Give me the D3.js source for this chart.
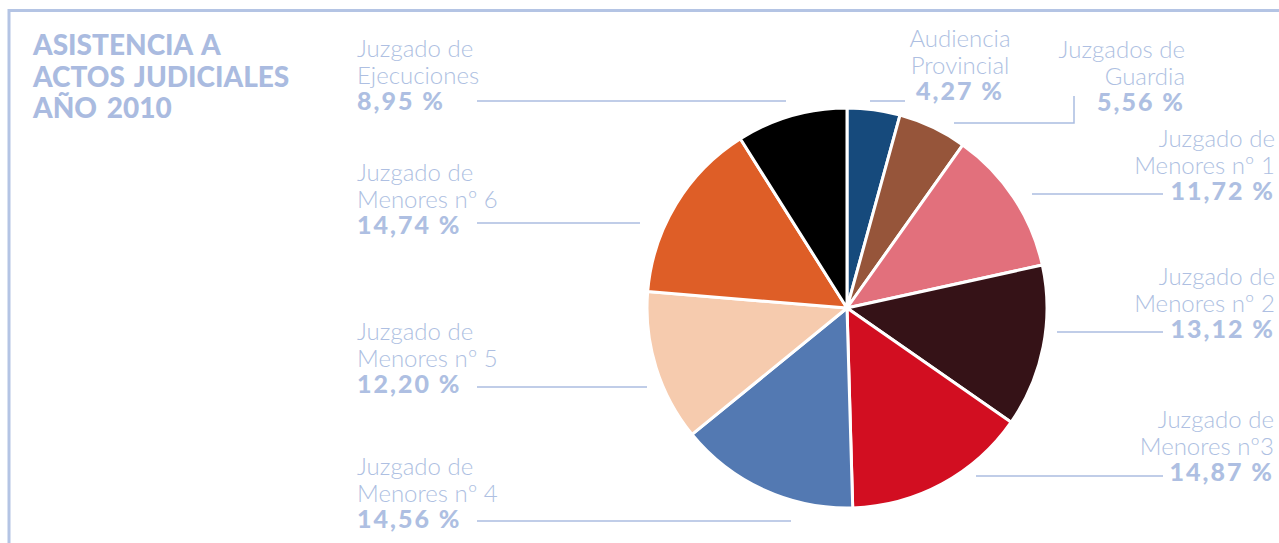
<!DOCTYPE html>
<html lang="es">
<head>
<meta charset="UTF-8">
<title>Asistencia a actos judiciales 2010</title>
<style>
    body { margin: 0; background: #fff; }
    svg { display: block; }
    .title { font: 900 28px Lato, "Open Sans", sans-serif; fill: #aabbe0; word-spacing: 3px; }
    .lbl { font: 300 24px Lato, "Open Sans", sans-serif; fill: #aebfe2; }
    .pct { font: 900 25px Lato, "DejaVu Sans", sans-serif; fill: #aebfe2; letter-spacing: 2px; }
    .lead { fill: none; stroke: #abbde1; stroke-width: 1.5px; }
    .frame { fill: none; stroke: #b4c4e4; stroke-width: 3px; }
</style>
</head>
<body>
<script src="https://cdn.jsdelivr.net/npm/d3@7"></script>
<script>
// data, clockwise from 12 o'clock
const categories = [
    ["Audiencia", "Provincial"],
    ["Juzgados de", "Guardia"],
    ["Juzgado de", "Menores nº 1"],
    ["Juzgado de", "Menores nº 2"],
    ["Juzgado de", "Menores nº3"],
    ["Juzgado de", "Menores nº 4"],
    ["Juzgado de", "Menores nº 5"],
    ["Juzgado de", "Menores nº 6"],
    ["Juzgado de", "Ejecuciones"]
];
const values = [4.27, 5.56, 11.72, 13.12, 14.87, 14.56, 12.20, 14.74, 8.95];
const colors = ["#164a7c", "#96553a", "#e2707c", "#351217", "#d20e21",
                "#5379b2", "#f6cbae", "#de5e27", "#000000"];
const titleLines = ["ASISTENCIA A", "ACTOS JUDICIALES", "AÑO 2010"];

// label placement: text anchor point (x, first baseline) + leader line
const labelLayout = [
    { x: 960, y: 47, anchor: "middle", line: [[870, 101], [905, 101]] },
    { x: 1185, y: 58, anchor: "end", line: [[954, 123], [1074, 123], [1074, 96]] },
    { x: 1275, y: 147, anchor: "end", line: [[1032, 194], [1163, 194]] },
    { x: 1275, y: 285, anchor: "end", line: [[1057, 332], [1163, 332]] },
    { x: 1274, y: 428, anchor: "end", line: [[976, 476], [1163, 476]] },
    { x: 357, y: 475, anchor: "start", line: [[477, 521], [791, 521]] },
    { x: 357, y: 340, anchor: "start", line: [[477, 387], [647, 387]] },
    { x: 357, y: 181, anchor: "start", line: [[477, 223], [640, 223]] },
    { x: 357, y: 57, anchor: "start", line: [[477, 101], [786, 101]] }
];

const width = 1279, height = 543;
const cx = 847, cy = 308, radius = 200;
const lineGap = 26.5;

const svg = d3.select("body").append("svg")
    .attr("width", width)
    .attr("height", height);

// frame
svg.append("path")
    .attr("class", "frame")
    .attr("d", `M9,${height} V10.5 H${width}`);

// title
svg.append("text")
    .attr("class", "title")
    .selectAll("tspan")
    .data(titleLines)
    .join("tspan")
    .attr("x", 33)
    .attr("y", (d, i) => 55 + i * 31.5)
    .text(d => d);

// pie
const pie = d3.pie().sort(null).value(d => d);
const arc = d3.arc().innerRadius(0).outerRadius(radius);

const g = svg.append("g").attr("transform", `translate(${cx},${cy})`);
g.selectAll("path")
    .data(pie(values))
    .join("path")
    .attr("d", arc)
    .attr("fill", (d, i) => colors[i])
    .attr("stroke", "#fff")
    .attr("stroke-width", 3)
    .attr("stroke-linejoin", "round");

// leader lines
svg.selectAll(".lead")
    .data(labelLayout)
    .join("path")
    .attr("class", "lead")
    .attr("d", d => d3.line()(d.line));

// labels
const fmt = v => v.toFixed(2).replace(".", ",") + " %";
const lab = svg.selectAll(".label")
    .data(labelLayout)
    .join("text")
    .attr("class", "label")
    .attr("text-anchor", d => d.anchor);

lab.each(function (d, i) {
    const t = d3.select(this);
    categories[i].forEach((s, k) => {
        t.append("tspan")
            .attr("class", "lbl")
            .attr("x", d.x)
            .attr("y", d.y + k * lineGap)
            .text(s);
    });
    t.append("tspan")
        .attr("class", "pct")
        .attr("x", d.x)
        .attr("y", d.y + 2 * lineGap)
        .text(fmt(values[i]));
});
</script>
</body>
</html>
